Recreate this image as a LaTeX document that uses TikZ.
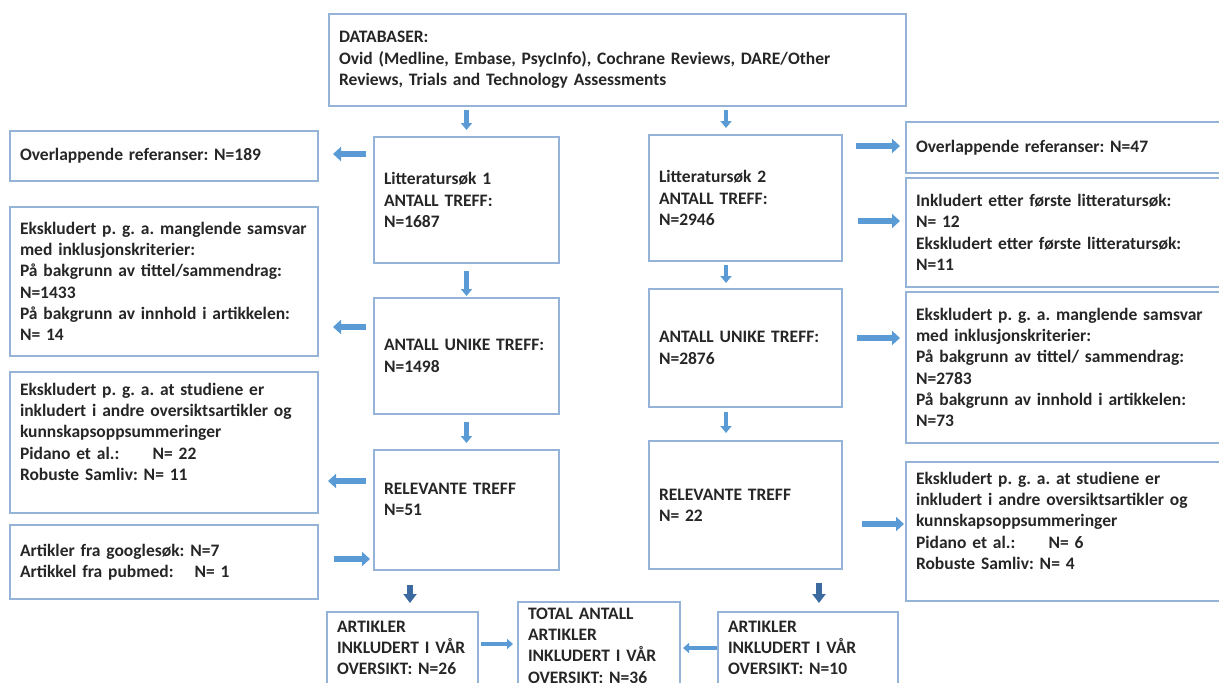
\documentclass[tikz,border=0pt]{standalone}
\usepackage{fontspec}
\setmainfont{Carlito}
\usepackage{tikz}
\usetikzlibrary{arrows.meta}

\definecolor{boxblue}{RGB}{149,179,215}
\definecolor{arrowblue}{RGB}{91,155,213}
\definecolor{darkblue}{RGB}{60,105,160}
\definecolor{txtgray}{RGB}{38,38,38}

\tikzset{
  box/.style={draw=boxblue, line width=1.2pt, anchor=north west, align=left,
    inner xsep=10pt, inner ysep=0pt, outer sep=0pt, text=txtgray,
    font=\fontsize{17.5}{21.3}\selectfont\bfseries\frenchspacing},
  flow/.style={draw=arrowblue, line width=5.5pt, -{Triangle[width=14pt,length=8pt]}},
  flowdown/.style={draw=arrowblue, line width=4.5pt, -{Triangle[width=11pt,length=7pt]}},
  flowthin/.style={draw=arrowblue, line width=4pt, -{Triangle[width=10pt,length=6pt]}},
  flowdark/.style={draw=darkblue, line width=5.5pt, -{Triangle[width=13pt,length=9pt]}}
}

\begin{document}
\begin{tikzpicture}[x=1pt, y=-1pt]
  \useasboundingbox (0,0) rectangle (1219,683);

  % databases
  \node[box, text width=557pt, minimum height=92pt] (db) at (329,14) {DATABASER:\\Ovid (Medline, Embase, PsycInfo), Cochrane Reviews, DARE/Other\\Reviews, Trials and Technology Assessments};

  % first search
  \node[box, text width=165pt, minimum height=126pt] (lit1) at (374,137) {Litteratursøk 1\\ANTALL TREFF:\\N=1687};
  \node[box, text width=165pt, minimum height=116pt] (unike1) at (374,298) {ANTALL UNIKE TREFF:\\N=1498};
  \node[box, text width=165pt, minimum height=120pt] (rel1) at (374,450) {RELEVANTE TREFF\\N=51\\\mbox{}};

  % left side boxes
  \node[box, text width=288pt, minimum height=50pt] (ovl1) at (10,131) {Overlappende referanser: N=189};
  \node[box, text width=288pt, minimum height=149pt] (eks1) at (10,207) {Ekskludert p. g. a. manglende samsvar\\med inklusjonskriterier:\\På bakgrunn av tittel/sammendrag:\\N=1433\\På bakgrunn av innhold i artikkelen:\\N= 14};
  \node[box, text width=288pt, minimum height=141pt] (stud1) at (10,372) {Ekskludert p. g. a. at studiene er\\inkludert i andre oversiktsartikler og\\kunnskapsoppsummeringer\\Pidano et al.:\hspace{1.9em}N= 22\\Robuste Samliv: N= 11\\\mbox{}};
  \node[box, text width=288pt, minimum height=74pt] (extra) at (10,525) {Artikler fra googlesøk: N=7\\Artikkel fra pubmed:\hspace{1.2em}N= 1};

  % second search
  \node[box, text width=173pt, minimum height=126pt] (lit2) at (649,135) {Litteratursøk 2\\ANTALL TREFF:\\N=2946};
  \node[box, text width=173pt, minimum height=118pt] (unike2) at (649,289) {ANTALL UNIKE TREFF:\\N=2876};
  \node[box, text width=173pt, minimum height=128pt] (rel2) at (649,441) {RELEVANTE TREFF\\N= 22};

  % right side boxes
  \node[box, text width=310pt, minimum height=51pt] (ovl2) at (906,122) {Overlappende referanser: N=47};
  \node[box, text width=310pt, minimum height=109pt] (ink2) at (906,178) {Inkludert etter første litteratursøk:\\N= 12\\Ekskludert etter første litteratursøk:\\N=11};
  \node[box, text width=310pt, minimum height=151pt] (eks2) at (906,292) {Ekskludert p. g. a. manglende samsvar\\med inklusjonskriterier:\\På bakgrunn av tittel/ sammendrag:\\N=2783\\På bakgrunn av innhold i artikkelen:\\N=73};
  \node[box, text width=310pt, minimum height=139pt] (stud2) at (906,462) {Ekskludert p. g. a. at studiene er\\inkludert i andre oversiktsartikler og\\kunnskapsoppsummeringer\\Pidano et al.:\hspace{1.9em}N= 6\\Robuste Samliv: N= 4\\\mbox{}};

  % results
  \node[box, text width=131pt, minimum height=72pt] (art1) at (327,612) {ARTIKLER\\INKLUDERT I VÅR\\OVERSIKT: N=26};
  \node[box, text width=142pt, minimum height=87pt] (total) at (518,602) {TOTAL ANTALL\\ARTIKLER\\INKLUDERT I VÅR\\OVERSIKT: N=36};
  \node[box, text width=160pt, minimum height=72pt] (art2) at (718,612) {ARTIKLER\\INKLUDERT I VÅR\\OVERSIKT: N=10};

  % arrow levels
  \coordinate (c1) at (726,0);
  \coordinate (h1) at (0,154);
  \coordinate (h2) at (0,327);
  \coordinate (h3) at (0,481);
  \coordinate (h4) at (0,559);
  \coordinate (h5) at (0,146);
  \coordinate (h6) at (0,221);
  \coordinate (h7) at (0,338);
  \coordinate (h8) at (0,524);
  \coordinate (h9) at (0,644);
  \coordinate (h10) at (0,648);
  \coordinate (v1) at (410,0);
  \coordinate (v2) at (819,0);

  % down arrows
  \draw[flowdown, shorten <=4pt, shorten >=7pt] (db.south -| lit1) -- (lit1.north);
  \draw[flowdown, shorten <=4pt, shorten >=7pt] (db.south -| c1) -- (lit2.north -| c1);
  \draw[flowdown, shorten <=8pt, shorten >=2pt] (lit1.south) -- (unike1.north);
  \draw[flowdown, shorten <=8pt, shorten >=7pt] (unike1.south) -- (rel1.north);
  \draw[flowdown, shorten <=4pt, shorten >=6pt] (lit2.south -| c1) -- (unike2.north -| c1);
  \draw[flowdown, shorten <=5pt, shorten >=8pt] (unike2.south -| c1) -- (rel2.north -| c1);
  \draw[flowdark, shorten <=15pt, shorten >=9pt] (rel1.south -| v1) -- (art1.north -| v1);
  \draw[flowdark, shorten <=14pt, shorten >=9pt] (rel2.south -| v2) -- (art2.north -| v2);

  % side arrows
  \draw[flow, shorten <=8pt, shorten >=15pt] (lit1.west |- h1) -- (ovl1.east |- h1);
  \draw[flow, shorten <=8pt, shorten >=15pt] (unike1.west |- h2) -- (eks1.east |- h2);
  \draw[flow, shorten <=8pt, shorten >=10pt] (rel1.west |- h3) -- (stud1.east |- h3);
  \draw[flow, shorten <=16pt, shorten >=4pt] (extra.east |- h4) -- (rel1.west |- h4);
  \draw[flow, shorten <=14pt, shorten >=6pt] (lit2.east |- h5) -- (ovl2.west |- h5);
  \draw[flow, shorten <=16pt, shorten >=6pt] (lit2.east |- h6) -- (ink2.west |- h6);
  \draw[flow, shorten <=15pt, shorten >=6pt] (unike2.east |- h7) -- (eks2.west |- h7);
  \draw[flow, shorten <=20pt, shorten >=2pt] (rel2.east |- h8) -- (stud2.west |- h8);
  \draw[flowthin, shorten <=3pt, shorten >=5pt] (art1.east |- h9) -- (total.west |- h9);
  \draw[flowthin, shorten <=1pt, shorten >=3pt] (art2.west |- h10) -- (total.east |- h10);
\end{tikzpicture}
\end{document}
